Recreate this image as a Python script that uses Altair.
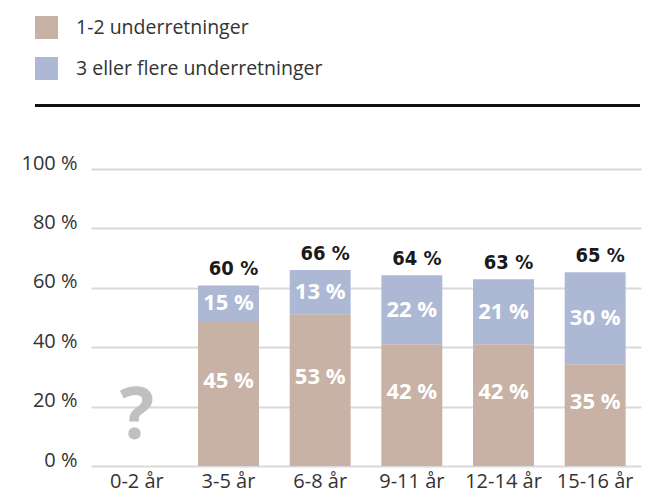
import altair as alt
import pandas as pd

categories = ["0-2 år", "3-5 år", "6-8 år", "9-11 år", "12-14 år", "15-16 år"]
series = ["1-2 underretninger", "3 eller flere underretninger"]
# bar heights as drawn in the picture (None = no data for 0-2 år)
few_values = [None, 48.8, 51.1, 41.0, 41.0, 34.3]
many_values = [None, 12.0, 14.9, 23.2, 21.9, 30.9]
few_labels = ["", "45 %", "53 %", "42 %", "42 %", "35 %"]
many_labels = ["", "15 %", "13 %", "22 %", "21 %", "30 %"]
total_labels = ["", "60 %", "66 %", "64 %", "63 %", "65 %"]
unknown_category = ["0-2 år"]
unknown_text = ["?"]
y_ticks = [0, 20, 40, 60, 80, 100]
colors = ["#c8b1a5", "#adb8d4"]

rows = []
for i, c in enumerate(categories):
    for s_idx, (vals, labs) in enumerate([(few_values, few_labels), (many_values, many_labels)]):
        if vals[i] is not None:
            rows.append({"category": c, "series": series[s_idx], "order": s_idx,
                         "value": vals[i], "label": labs[i]})
df = pd.DataFrame(rows)

tot_rows = []
for i, c in enumerate(categories):
    if few_values[i] is not None:
        tot_rows.append({"category": c, "total": few_values[i] + many_values[i],
                         "label": total_labels[i]})
tot = pd.DataFrame(tot_rows)
unk = pd.DataFrame({"category": unknown_category, "text": unknown_text})

FONT = "Open Sans"

x = alt.X("category:N", sort=categories, title=None,
          scale=alt.Scale(paddingInner=0.335, paddingOuter=0.1675),
          axis=alt.Axis(labelFont=FONT, labelFontSize=20, labelColor="#333333",
                        labelAngle=0, domain=False, ticks=False, grid=False, labelPadding=5))

bars = alt.Chart(df).mark_bar().encode(
    x=x,
    y=alt.Y("value:Q", stack="zero", title=None,
            scale=alt.Scale(domain=[0, 100], nice=False),
            axis=alt.Axis(values=y_ticks, labelExpr="datum.value + ' %'",
                          labelFont=FONT, labelFontSize=20, labelColor="#333333",
                          domain=False, ticks=False, labelPadding=14, labelOffset=-6,
                          gridColor="#d9d9d9", gridWidth=2)),
    color=alt.Color("series:N", sort=series,
                    scale=alt.Scale(domain=series, range=colors),
                    legend=alt.Legend(title=None, orient="none", legendX=-56, legendY=-153,
                                      symbolType="square", symbolSize=529,
                                      symbolStrokeWidth=0, labelFont=FONT,
                                      labelFontSize=19.5, labelColor="#333333",
                                      labelLimit=0, labelOffset=18, rowPadding=18,
                                      padding=0)),
    order=alt.Order("order:Q"),
)

stacked = alt.Chart(df).transform_stack(
    stack="value", groupby=["category"], sort=[alt.SortField("order")], as_=["y0", "y1"]
).transform_calculate(mid="(datum.y0 + datum.y1) / 2")

few_text = stacked.transform_filter(alt.datum.order == 0).mark_text(
    font=FONT, fontSize=22, fontWeight="bold", color="white", baseline="middle", dy=-13
).encode(x=alt.X("category:N", sort=categories), y=alt.Y("mid:Q"), text="label:N")

many_text = stacked.transform_filter(alt.datum.order == 1).mark_text(
    font=FONT, fontSize=22, fontWeight="bold", color="white", baseline="middle"
).encode(x=alt.X("category:N", sort=categories), y=alt.Y("mid:Q"), text="label:N")

total_text = alt.Chart(tot).mark_text(
    font="DejaVu Sans Condensed", fontSize=20, fontWeight="bold", color="#1a1a1a",
    baseline="middle", dy=-16, dx=5
).encode(x=alt.X("category:N", sort=categories), y=alt.Y("total:Q"), text="label:N")

unknown = alt.Chart(unk).mark_text(
    font=FONT, fontSize=72, fontWeight="bold", color="#c0c0c0",
    baseline="alphabetic", dy=-27
).encode(x=alt.X("category:N", sort=categories), y=alt.datum(0), text="text:N")

rule = alt.Chart(alt.Data(values=[{}])).mark_rule(color="#111111", strokeWidth=3).encode(
    x=alt.value(-56), x2=alt.value(549), y=alt.value(-63.5)
)

chart = alt.layer(bars, few_text, many_text, total_text, unknown, rule).properties(
    width=550, height=297,
    autosize=alt.AutoSizeParams(type="none"),
    padding={"left": 83, "top": 161, "right": 20, "bottom": 28},
    background="white",
).configure_view(stroke=None, strokeWidth=0)

chart.save("out.html", embed_options={"renderer": "svg", "actions": False})
